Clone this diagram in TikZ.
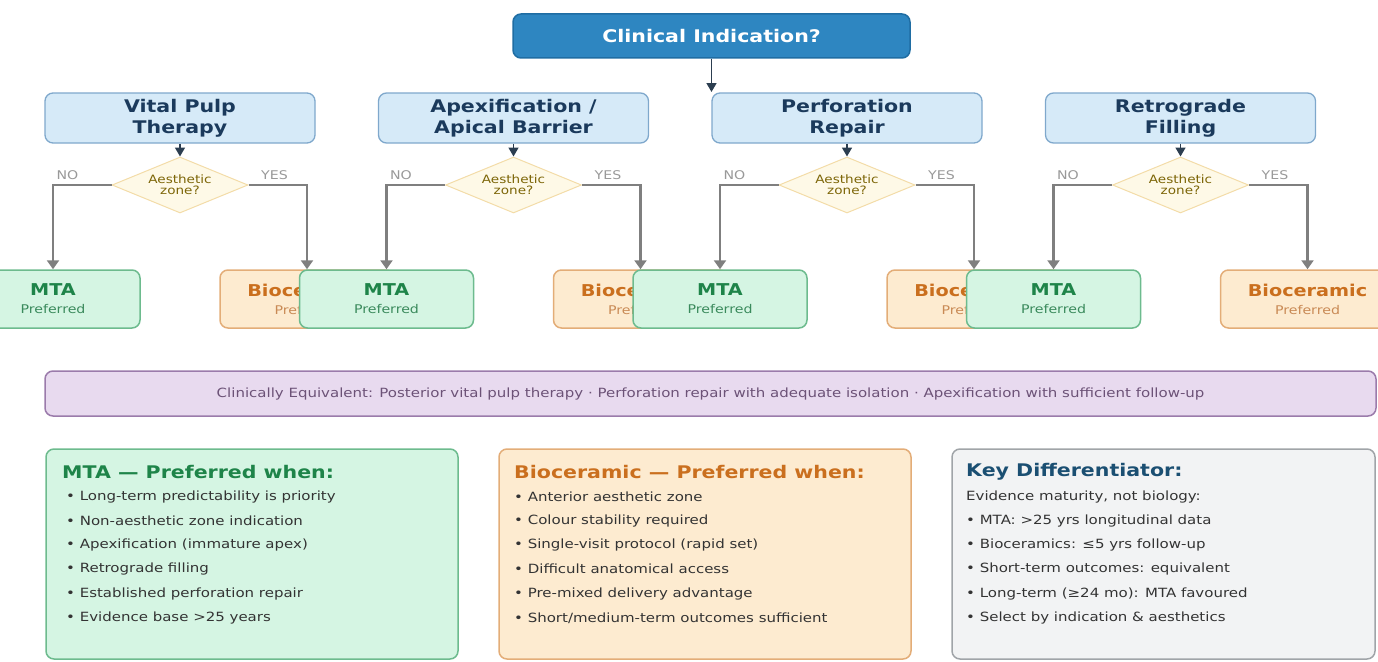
\documentclass[tikz,border=0pt]{standalone}
\usepackage{fontspec}
\setmainfont{DejaVu Sans}[FakeStretch=1.18]
\usetikzlibrary{arrows.meta,shapes.geometric}
\definecolor{clinF}{HTML}{2E86C1}
\definecolor{clinB}{HTML}{1F6DA3}
\definecolor{catF}{HTML}{D6EAF8}
\definecolor{catB}{HTML}{7FA8CC}
\definecolor{catT}{HTML}{1B3A5C}
\definecolor{diaF}{HTML}{FEF9E7}
\definecolor{diaB}{HTML}{F3DCA8}
\definecolor{diaT}{HTML}{7D6608}
\definecolor{mtaF}{HTML}{D5F5E3}
\definecolor{mtaB}{HTML}{6DBB8E}
\definecolor{mtaT}{HTML}{1E8449}
\definecolor{mtaP}{HTML}{3A8A5C}
\definecolor{bioF}{HTML}{FDEBD0}
\definecolor{bioB}{HTML}{E3AD78}
\definecolor{bioT}{HTML}{CA6F1E}
\definecolor{bioP}{HTML}{C98A55}
\definecolor{purF}{HTML}{E8DAEF}
\definecolor{purB}{HTML}{9B7BAB}
\definecolor{purT}{HTML}{6C5277}
\definecolor{keyF}{HTML}{F2F3F4}
\definecolor{keyB}{HTML}{A0A4A8}
\definecolor{keyT}{HTML}{1B4F72}
\definecolor{navy}{HTML}{2C3E50}
\definecolor{grayA}{HTML}{7F7F7F}
\definecolor{lblT}{HTML}{999999}
\definecolor{bodyT}{HTML}{333333}
\newcommand{\fsz}[2]{\fontsize{#1}{#2}\selectfont}
\begin{document}
\begin{tikzpicture}[x=1pt,y=-1pt,
  clin/.style={draw=clinB, fill=clinF, line width=1.5pt, rounded corners=8pt,
    minimum width=397pt, minimum height=44pt, inner sep=0pt, text=white,
    font=\fsz{17.4}{21}\bfseries},
  cat/.style={draw=catB, fill=catF, line width=1.3pt, rounded corners=8pt,
    minimum width=270pt, minimum height=50pt, inner sep=0pt, align=center,
    text=catT, font=\fsz{17.4}{21}\bfseries},
  dia/.style={diamond, aspect=2.43, draw=diaB, fill=diaF, line width=1pt,
    minimum width=136pt, minimum height=56pt, inner sep=0pt, align=center,
    text=diaT, font=\fsz{11.5}{11}},
  mtab/.style={draw=mtaB, fill=mtaF, line width=1.5pt, rounded corners=8pt,
    minimum width=174pt, minimum height=58pt, inner sep=0pt, align=center,
    text=mtaP, font=\fsz{12}{18}},
  biob/.style={draw=bioB, fill=bioF, line width=1.5pt, rounded corners=8pt,
    minimum width=174pt, minimum height=58pt, inner sep=0pt, align=center,
    text=bioP, font=\fsz{12}{18}},
  lbl/.style={text=lblT, font=\fsz{12}{14}, inner sep=0pt},
  navyarr/.style={draw=navy, line width=1.6pt, -{Triangle[length=9pt,width=10pt]}},
  grayarr/.style={draw=grayA, line width=2.6pt, -{Triangle[length=9pt,width=12pt]}},
  panel/.style={line width=1.5pt, rounded corners=8pt, minimum height=210pt, inner sep=0pt},
  ptitle/.style={anchor=west, inner sep=0pt, font=\fsz{17.4}{20}\bfseries},
  pline/.style={anchor=west, inner sep=0pt, text=bodyT, font=\fsz{12.7}{15}}
]
\useasboundingbox (0,0) rectangle (1378,661);

\node[clin] (clin) at (711.5,36) {Clinical Indication?};
\coordinate (rowtop) at (711.5,92);

\foreach \i/\c/\t in {1/180/{Vital Pulp\\Therapy}, 2/513.5/{Apexification /\\Apical Barrier},
                      3/847/{Perforation\\Repair}, 4/1180.5/{Retrograde\\Filling}} {
  \node[cat] (cat\i) at (\c,118) {\t};
  \node[dia] (dia\i) at (\c,185) {Aesthetic\\zone?};
  \node[mtab] (mta\i) at (\c-127,299) {{\fsz{16.3}{18}\bfseries\color{mtaT}MTA}\\Preferred};
  \node[biob] (bio\i) at (\c+127,299) {{\fsz{16.3}{18}\bfseries\color{bioT}Bioceramic}\\Preferred};
}

\draw[navyarr] (clin.south) -- (rowtop);
\foreach \i in {1,2,3,4} {
  \draw[navyarr] (cat\i.south) -- (dia\i.north);
  \draw[grayarr] (dia\i.west) -| (mta\i.north);
  \draw[grayarr] (dia\i.east) -| (bio\i.north);
  \node[lbl] (no\i) at ([xshift=-44pt,yshift=10pt]dia\i.west) {NO};
  \node[lbl] (yes\i) at ([xshift=26pt,yshift=10pt]dia\i.east) {YES};
}

\node[draw=purB, fill=purF, line width=1.5pt, rounded corners=8pt,
      minimum width=1331pt, minimum height=45pt, inner sep=0pt,
      text=purT, font=\fsz{12.7}{14}] (equiv) at (710.5,393.5)
  {Clinically Equivalent: Posterior vital pulp therapy · Perforation repair with adequate isolation · Apexification with sufficient follow-up};

\node[panel, draw=mtaB, fill=mtaF, minimum width=412pt] (pm) at (252,554) {};
\node[panel, draw=bioB, fill=bioF, minimum width=412pt] (pb) at (705,554) {};
\node[panel, draw=keyB, fill=keyF, minimum width=423pt] (pk) at (1163.5,554) {};

\node[ptitle, text=mtaT] (tm) at (62,472) {MTA — Preferred when:};
\node[pline] (m1) at (66,497) {• Long-term predictability is priority};
\node[pline] (m2) at (66,521) {• Non-aesthetic zone indication};
\node[pline] (m3) at (66,545) {• Apexification (immature apex)};
\node[pline] (m4) at (66,569) {• Retrograde filling};
\node[pline] (m5) at (66,594) {• Established perforation repair};
\node[pline] (m6) at (66,618) {• Evidence base >25 years};

\node[ptitle, text=bioT] (tb) at (514,472) {Bioceramic — Preferred when:};
\node[pline] (b1) at (514,497) {• Anterior aesthetic zone};
\node[pline] (b2) at (514,521) {• Colour stability required};
\node[pline] (b3) at (514,545) {• Single-visit protocol (rapid set)};
\node[pline] (b4) at (514,569) {• Difficult anatomical access};
\node[pline] (b5) at (514,594) {• Pre-mixed delivery advantage};
\node[pline] (b6) at (514,618) {• Short/medium-term outcomes sufficient};

\node[ptitle, text=keyT] (tk) at (966,472) {Key Differentiator:};
\node[pline] (k0) at (966,497) {Evidence maturity, not biology:};
\node[pline] (k1) at (966,521) {• MTA: >25 yrs longitudinal data};
\node[pline] (k2) at (966,545) {• Bioceramics: ≤5 yrs follow-up};
\node[pline] (k3) at (966,569) {• Short-term outcomes: equivalent};
\node[pline] (k4) at (966,594) {• Long-term (≥24 mo): MTA favoured};
\node[pline] (k5) at (966,618) {• Select by indication \& aesthetics};
\end{tikzpicture}
\end{document}
